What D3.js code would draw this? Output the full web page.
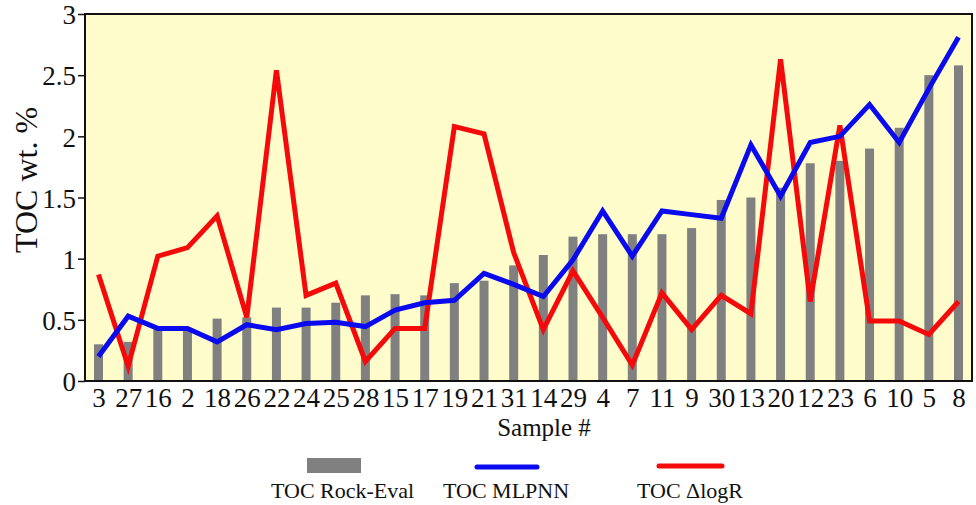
<!DOCTYPE html>
<html>
<head>
<meta charset="utf-8">
<script src="https://cdn.jsdelivr.net/npm/d3@7"></script>
<style>
  body { margin: 0; background: #fff; }
  svg text { font-family: "Liberation Serif", "Times New Roman", Times, serif; }
</style>
</head>
<body>
<div id="chart"></div>
<script>
// sample order along the x axis
var samples = ["3","27","16","2","18","26","22","24","25","28","15","17","19","21","31",
               "14","29","4","7","11","9","30","13","20","12","23","6","10","5","8"];

// TOC values, wt. %
var rockEval = [0.30,0.32,0.42,0.43,0.51,0.52,0.60,0.60,0.64,0.70,0.71,0.70,0.80,0.82,0.945,
                1.03,1.18,1.20,1.20,1.20,1.25,1.48,1.50,1.58,1.78,1.80,1.90,2.07,2.50,2.58];
var mlpnn    = [0.20,0.53,0.43,0.43,0.32,0.46,0.42,0.47,0.48,0.445,0.58,0.64,0.66,0.88,0.79,
                0.69,0.99,1.39,1.02,1.39,1.36,1.33,1.93,1.51,1.95,2.00,2.26,1.95,2.39,2.81];
var dlogR    = [0.87,0.12,1.02,1.09,1.35,0.52,2.54,0.70,0.80,0.16,0.43,0.43,2.08,2.02,1.05,
                0.42,0.90,0.52,0.13,0.72,0.42,0.70,0.55,2.63,0.65,2.09,0.49,0.49,0.38,0.65];
var yTicks = [0, 0.5, 1, 1.5, 2, 2.5, 3];

var serif = "'Liberation Serif', 'Times New Roman', Times, serif";

var W = 976, H = 505;
var margin = {top: 14, right: 4, bottom: 124, left: 85},
    width = W - margin.left - margin.right,
    height = H - margin.top - margin.bottom;

var svg = d3.select("#chart").append("svg")
    .attr("width", W)
    .attr("height", H)
    .style("font-family", serif);

var g = svg.append("g").attr("transform", "translate(" + margin.left + "," + margin.top + ")");

var x = d3.scalePoint().domain(samples).range([0, width]).padding(0.455);
var y = d3.scaleLinear().domain([0, 3]).range([height, 0]);

// plot background
g.append("rect")
    .attr("width", width)
    .attr("height", height)
    .attr("fill", "#fffccc");

// bars
var barW = 9;
g.append("g")
  .selectAll("rect")
  .data(rockEval)
  .enter().append("rect")
    .attr("x", function(d, i) { return x(samples[i]) - barW / 2; })
    .attr("y", function(d) { return y(d); })
    .attr("width", barW)
    .attr("height", function(d) { return height - y(d); })
    .attr("fill", "#808080");

var line = d3.line()
    .x(function(d, i) { return x(samples[i]); })
    .y(function(d) { return y(d); });

g.append("path")
    .datum(dlogR)
    .attr("d", line)
    .attr("fill", "none")
    .attr("stroke", "#f40a0a")
    .attr("stroke-width", 5)
    .attr("stroke-linejoin", "miter");

g.append("path")
    .datum(mlpnn)
    .attr("d", line)
    .attr("fill", "none")
    .attr("stroke", "#0a0aee")
    .attr("stroke-width", 5)
    .attr("stroke-linejoin", "miter");

// frame
g.append("rect")
    .attr("width", width)
    .attr("height", height)
    .attr("fill", "none")
    .attr("stroke", "#111")
    .attr("stroke-width", 2);

// axes
var yAxis = g.append("g")
    .call(d3.axisLeft(y).tickValues(yTicks).tickSize(7).tickPadding(2).tickFormat(d3.format("")));
yAxis.attr("font-family", null);
yAxis.select(".domain").remove();
yAxis.selectAll(".tick line").attr("stroke", "#111").attr("stroke-width", 1.5);
yAxis.selectAll(".tick text")
    .attr("dy", "0.36em")
    .style("font-size", "27px")
    .style("font-family", serif)
    .attr("fill", "#111");

var xAxis = g.append("g")
    .attr("transform", "translate(0," + height + ")")
    .call(d3.axisBottom(x).tickSize(0).tickPadding(7));
xAxis.attr("font-family", null);
xAxis.select(".domain").remove();
xAxis.selectAll(".tick text")
    .style("font-size", "27px")
    .style("font-family", serif)
    .attr("fill", "#111");

// axis titles
svg.append("text")
    .attr("transform", "translate(37,180) rotate(-90)")
    .attr("text-anchor", "middle")
    .style("font-size", "32px")
    .attr("fill", "#111")
    .text("TOC wt. %");

svg.append("text")
    .attr("x", 544)
    .attr("y", 436)
    .attr("text-anchor", "middle")
    .style("font-size", "25px")
    .attr("fill", "#111")
    .text("Sample #");

// legend
var legend = svg.append("g").style("font-size", "22px").attr("fill", "#111");

legend.append("rect")
    .attr("x", 307).attr("y", 458)
    .attr("width", 54).attr("height", 15)
    .attr("fill", "#808080");
legend.append("text").attr("x", 271).attr("y", 498).text("TOC Rock-Eval");

legend.append("line")
    .attr("x1", 477).attr("x2", 537).attr("y1", 467).attr("y2", 467)
    .attr("stroke", "#0a0aee").attr("stroke-width", 5).attr("stroke-linecap", "round");
legend.append("text").attr("x", 443).attr("y", 498).text("TOC MLPNN");

legend.append("line")
    .attr("x1", 659).attr("x2", 722).attr("y1", 466).attr("y2", 466)
    .attr("stroke", "#f40a0a").attr("stroke-width", 5).attr("stroke-linecap", "round");
legend.append("text").attr("x", 637).attr("y", 498).text("TOC \u0394logR");
</script>
</body>
</html>
